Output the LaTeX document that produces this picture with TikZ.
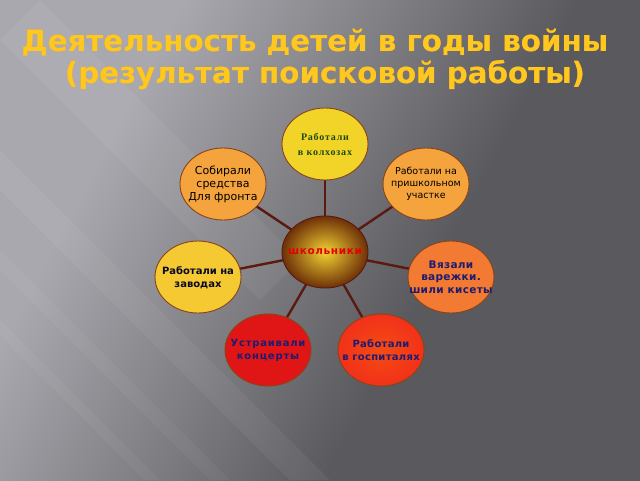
\documentclass[tikz,border=0pt]{standalone}
\usepackage{fontspec}
\setmainfont{DejaVu Sans}
\newfontfamily\titlefont{DejaVu Sans}
\newfontfamily\serifb{Liberation Serif}
\usetikzlibrary{shapes.geometric,fadings}
\definecolor{bgA}{HTML}{A8A8AE}
\definecolor{bgM}{HTML}{7C7C81}
\definecolor{bgB}{HTML}{5A595E}
\definecolor{edgec}{HTML}{5A1A10}
\definecolor{rimc}{HTML}{8A4418}
\definecolor{tyellow}{HTML}{F2D428}
\definecolor{torange}{HTML}{F5A33C}
\definecolor{tzavod}{HTML}{F5C932}
\definecolor{tvyaz}{HTML}{F27A32}
\definecolor{tconc}{HTML}{E01616}
\definecolor{thosp}{HTML}{F0361C}
\definecolor{navy}{HTML}{1E1C70}
\definecolor{dgreen}{HTML}{1C4A12}
\definecolor{ttlO}{HTML}{F59A26}
\definecolor{ttlY}{HTML}{FFC81E}
\definecolor{cin}{HTML}{F2D232}
\definecolor{cout}{HTML}{6E3008}
\pgfdeclarehorizontalshading{bgsh}{100bp}{color(0bp)=(bgA); color(30bp)=(bgA); color(47bp)=(bgM); color(60bp)=(bgB); color(100bp)=(bgB)}
\begin{tikzfadingfrompicture}[name=ttlfade]
  \shade[top color=transparent!0, bottom color=transparent!100] (-340pt,-22pt) rectangle (340pt,22pt);
\end{tikzfadingfrompicture}
\pgfdeclarelayer{bgl}
\pgfdeclarelayer{edgel}
\pgfsetlayers{bgl,edgel,main}
\tikzset{
  bubble/.style={ellipse, draw=rimc, line width=0.9pt, minimum width=86pt, minimum height=72pt, inner sep=0pt},
  lbl/.style={align=center, inner sep=0pt, font=\fontsize{10}{12}\selectfont},
  link/.style={draw=edgec, line width=2.4pt},
  ttl/.style={inner sep=0pt, anchor=center, font=\titlefont\bfseries\fontsize{29.3}{31}\selectfont}
}
\begin{document}
\begin{tikzpicture}[x=1pt,y=-1pt]
\begin{pgfonlayer}{bgl}
  \shade[shading=bgsh, shading angle=-28] (0,0) rectangle (640,480);
  \begin{scope}
    \clip (0,0) rectangle (640,480);
    \fill[white, opacity=0.05] (0,40) -- (40,0) -- (300,260) -- (260,300) -- cycle;
    \fill[white, opacity=0.05] (0,150) -- (0,190) -- (290,480) -- (330,480) -- cycle;
    \fill[white, opacity=0.04] (0,250) -- (0,270) -- (210,480) -- (230,480) -- cycle;
    \fill[white, opacity=0.04] (0,320) -- (0,335) -- (145,480) -- (160,480) -- cycle;
  \end{scope}
  \useasboundingbox (0,0) rectangle (640,480);
\end{pgfonlayer}

% title: orange base with a yellow layer fading out toward the foot
\node[ttl, text=ttlO] (t1) at (315,43) {Деятельность детей в годы войны};
\node[ttl, text=ttlO] (t2) at (325,75) {(результат поисковой работы)};
\begin{scope}[scope fading=ttlfade, fit fading=false, fading transform={shift={(315,42)}}]
  \node[ttl, text=ttlY] (t1y) at (315,43) {Деятельность детей в годы войны};
\end{scope}
\begin{scope}[scope fading=ttlfade, fit fading=false, fading transform={shift={(325,74)}}]
  \node[ttl, text=ttlY] (t2y) at (325,75) {(результат поисковой работы)};
\end{scope}

% bubbles
\node[bubble, shading=radial, inner color=cin, outer color=cout, draw=edgec] (c) at (325,252) {};
\node[bubble, fill=tyellow] (kolh) at (325,144) {};
\node[bubble, fill=torange] (sob) at (223,184) {};
\node[bubble, fill=torange] (prish) at (426,184) {};
\node[bubble, fill=tzavod] (zav) at (198,277) {};
\node[bubble, fill=tvyaz] (vyaz) at (451,277) {};
\node[bubble, fill=tconc] (conc) at (268,350) {};
\node[bubble, shading=radial, inner color=thosp!70!orange, outer color=thosp!90!red] (hosp) at (381,350) {};

% labels
\node[lbl, text=red!90!black, font=\bfseries\fontsize{10.5}{12}\selectfont\addfontfeature{LetterSpace=6}] (cT) at (c) {школьники};
\node[lbl, text=dgreen, font=\serifb\bfseries\fontsize{10}{15}\selectfont\addfontfeature{LetterSpace=8}] (kolhT) at (kolh) {Работали\\в колхозах};
\node[lbl, text=black, font=\fontsize{11}{13}\selectfont] (sobT) at (sob) {Собирали\\средства\\Для фронта};
\node[lbl, text=black, font=\fontsize{9.5}{12}\selectfont] (prishT) at (prish) {Работали на\\пришкольном\\участке};
\node[lbl, text=navy!30!black, font=\bfseries\fontsize{10}{13}\selectfont] (zavT) at ([yshift=-1pt]zav.center) {Работали на\\заводах};
\node[lbl, text=navy, font=\bfseries\fontsize{10.5}{12.5}\selectfont\addfontfeature{LetterSpace=3}] (vyazT) at (vyaz) {Вязали\\варежки.\\шили кисеты};
\node[lbl, text=navy, font=\bfseries\fontsize{10}{13}\selectfont\addfontfeature{LetterSpace=8}] (concT) at (conc) {Устраивали\\концерты};
\node[lbl, text=navy, font=\bfseries\fontsize{10}{13}\selectfont\addfontfeature{LetterSpace=3}] (hospT) at (hosp) {Работали\\в госпиталях};

\begin{pgfonlayer}{edgel}
  \foreach \n in {kolh,sob,prish,zav,vyaz,conc,hosp}
    \draw[link] (c.center) -- (\n.center);
\end{pgfonlayer}
\end{tikzpicture}
\end{document}
